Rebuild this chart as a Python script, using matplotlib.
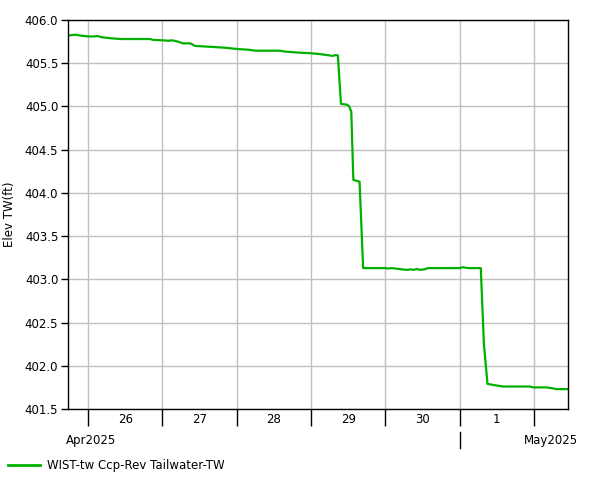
import matplotlib

matplotlib.use("Agg")
import matplotlib.pyplot as plt
import matplotlib.dates as mdates
import matplotlib.transforms as mtransforms
import pandas as pd

# tailwater readings
TIMES = [
    "2025-04-25 17:30", "2025-04-25 20:00", "2025-04-25 21:30", "2025-04-26 00:00",
    "2025-04-26 02:00", "2025-04-26 03:00", "2025-04-26 04:30", "2025-04-26 07:00",
    "2025-04-26 10:20", "2025-04-26 20:00", "2025-04-26 21:00", "2025-04-27 00:00",
    "2025-04-27 02:00", "2025-04-27 03:00", "2025-04-27 04:30", "2025-04-27 06:40",
    "2025-04-27 09:00", "2025-04-27 10:30", "2025-04-27 15:30", "2025-04-27 20:00",
    "2025-04-28 00:00", "2025-04-28 04:00", "2025-04-28 06:00", "2025-04-28 14:00",
    "2025-04-28 15:30", "2025-04-28 19:00", "2025-04-29 00:00", "2025-04-29 03:00",
    "2025-04-29 06:00", "2025-04-29 07:00", "2025-04-29 08:00", "2025-04-29 08:40",
    "2025-04-29 09:40", "2025-04-29 11:40", "2025-04-29 12:20", "2025-04-29 13:00",
    "2025-04-29 13:40", "2025-04-29 15:40", "2025-04-29 16:50", "2025-04-30 00:00",
    "2025-04-30 00:40", "2025-04-30 02:10", "2025-04-30 04:10", "2025-04-30 05:30",
    "2025-04-30 06:50", "2025-04-30 08:10", "2025-04-30 09:10", "2025-04-30 10:10",
    "2025-04-30 11:10", "2025-04-30 12:30", "2025-04-30 13:50", "2025-05-01 00:00",
    "2025-05-01 01:00", "2025-05-01 02:40", "2025-05-01 06:50", "2025-05-01 07:50",
    "2025-05-01 09:00", "2025-05-01 11:25", "2025-05-01 14:00", "2025-05-01 22:45",
    "2025-05-01 23:45", "2025-05-02 04:00", "2025-05-02 06:00", "2025-05-02 07:15",
    "2025-05-02 11:00",
]
ELEV = [
    405.82, 405.83, 405.82, 405.81,
    405.81, 405.815, 405.80, 405.79,
    405.78, 405.78, 405.77, 405.765,
    405.76, 405.765, 405.755, 405.73,
    405.73, 405.70, 405.69, 405.68,
    405.665, 405.655, 405.645, 405.645,
    405.635, 405.625, 405.615, 405.605,
    405.59, 405.585, 405.595, 405.59,
    405.03, 405.02, 405.00, 404.94,
    404.15, 404.13, 403.13, 403.13,
    403.125, 403.13, 403.12, 403.115,
    403.11, 403.115, 403.11, 403.12,
    403.11, 403.115, 403.13, 403.13,
    403.14, 403.13, 403.13, 402.25,
    401.79, 401.775, 401.76, 401.76,
    401.75, 401.75, 401.74, 401.73,
    401.73,
]
SERIES = "WIST-tw Ccp-Rev Tailwater-TW"
YTICKS = [401.5, 402.0, 402.5, 403.0, 403.5, 404.0, 404.5, 405.0, 405.5, 406.0]
XMIN, XMAX = "2025-04-25 17:30", "2025-05-02 11:00"

GREEN = "#00b000"
FS = 8.5

t = pd.to_datetime(TIMES)
fig = plt.figure(figsize=(6.01, 4.80), dpi=100)
ax = fig.add_axes([68 / 601, 71 / 480, 500 / 601, 389 / 480])
ax.plot(t, ELEV, color=GREEN, linewidth=1.6)

ax.set_ylim(401.5, 406.0)
ax.set_yticks(YTICKS)
ax.set_yticklabels([f"{v:.1f}" for v in YTICKS], fontsize=FS)
ax.set_ylabel("Elev TW(ft)", fontsize=FS, labelpad=6)
ax.set_xlim(pd.Timestamp(XMIN), pd.Timestamp(XMAX))

# day ticks at midnight, day labels centred at noon
ax.xaxis.set_major_locator(mdates.DayLocator())
ax.xaxis.set_major_formatter(plt.NullFormatter())
ax.xaxis.set_minor_locator(mdates.HourLocator(byhour=[12]))
ax.xaxis.set_minor_formatter(mdates.DateFormatter("%-d"))
ax.tick_params(axis="x", which="major", length=12, width=1, direction="out")
ax.tick_params(axis="x", which="minor", length=0, labelsize=FS, pad=3)
ax.tick_params(axis="y", length=5, width=1, pad=2)

ax.grid(True, which="major", color="#c0c0c0", linewidth=1)
ax.set_axisbelow(True)
for s in ax.spines.values():
    s.set_linewidth(1)

# month row
tr = mtransforms.blended_transform_factory(ax.transData, ax.transAxes)
ax.text(-0.005, -0.082, "Apr2025", transform=ax.transAxes, fontsize=FS,
        ha="left", va="center")
ax.text(1.02, -0.082, "May2025", transform=ax.transAxes, fontsize=FS,
        ha="right", va="center")
x_may = mdates.date2num(pd.Timestamp("2025-05-01"))
ax.plot([x_may, x_may], [-0.06, -0.10], transform=tr, color="black",
        linewidth=1, clip_on=False)

# legend
fig.lines.append(plt.Line2D([8 / 601, 40 / 601], [15 / 480, 15 / 480],
                            color=GREEN, linewidth=2, transform=fig.transFigure))
fig.text(47 / 601, 15 / 480, SERIES, fontsize=FS, ha="left", va="center")

fig.savefig("out.png", dpi=100)
